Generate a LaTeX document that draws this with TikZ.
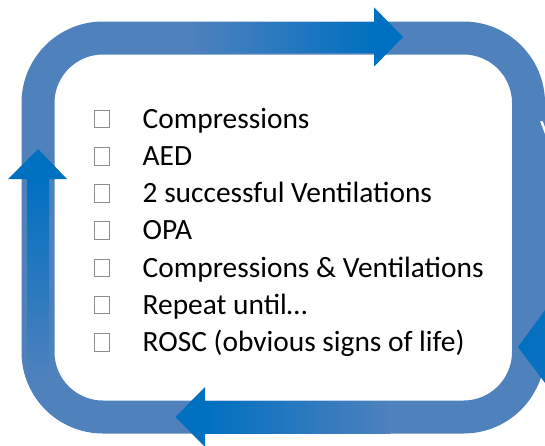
\documentclass[tikz,border=0pt]{standalone}
\usepackage{fontspec}
\setmainfont{Carlito}
\definecolor{ringblue}{HTML}{4F81BD}
\definecolor{arrblue}{HTML}{0070C0}
\tikzset{
  cbox/.style={draw=black!45, line width=0.9pt, minimum width=15pt, minimum height=17.5pt, inner sep=0pt, fill=white},
  item/.style={anchor=base west, inner sep=0pt, font=\fontsize{29.4}{35}\selectfont, text=black},
  headfill/.style={fill=arrblue, draw=none}
}
\begin{document}
\begin{tikzpicture}[x=1pt,y=-1pt]
\useasboundingbox (0,0) rectangle (545,445);
\begin{scope}
\clip (0,0) rectangle (545,445);
% ring
\draw[ringblue, line width=33pt, rounded corners=65pt] (38,38) rectangle (528.5,417);
% top arrow
\shade[left color=ringblue, right color=arrblue, draw=none] (190,22.7) rectangle (375,52.7);
\fill[headfill] (374,7.3) -- (403,37) -- (374,66.7) -- cycle;
% left arrow
\shade[bottom color=ringblue, top color=arrblue, draw=none] (27,380) rectangle (49,178);
\fill[headfill] (8,179) -- (38,149) -- (67,179) -- cycle;
% bottom arrow
\shade[left color=arrblue, right color=ringblue, draw=none] (204,401.7) rectangle (390,433);
\fill[headfill] (205,387) -- (175.5,417) -- (205,447) -- cycle;
% right arrow head (partly visible)
\shade[left color=arrblue, right color=arrblue!85!ringblue, draw=none] (518,347) -- (545,310) -- (560,310) -- (560,385) -- (545,383) -- cycle;
% white letter partly visible
\node[anchor=base west, inner sep=0pt, font=\fontsize{29.4}{35}\selectfont, text=white] (vv) at (540,140) {V};
\end{scope}
% checkboxes
\foreach \i in {0,...,6}{
  \node[cbox] (b\i) at (102,{119+37.2*\i}) {};
}
% items
\node[item] (t0) at (142.5,128.3) {Compressions};
\node[item] (t1) at (142.5,165.5) {AED};
\node[item] (t2) at (142.5,202.7) {2 successful Ventilations};
\node[item] (t3) at (142.5,239.9) {OPA};
\node[item] (t4) at (142.5,277.1) {Compressions \& Ventilations};
\node[item] (t5) at (142.5,314.3) {Repeat until…};
\node[item] (t6) at (142.5,351.5) {ROSC (obvious signs of life)};
\end{tikzpicture}
\end{document}
